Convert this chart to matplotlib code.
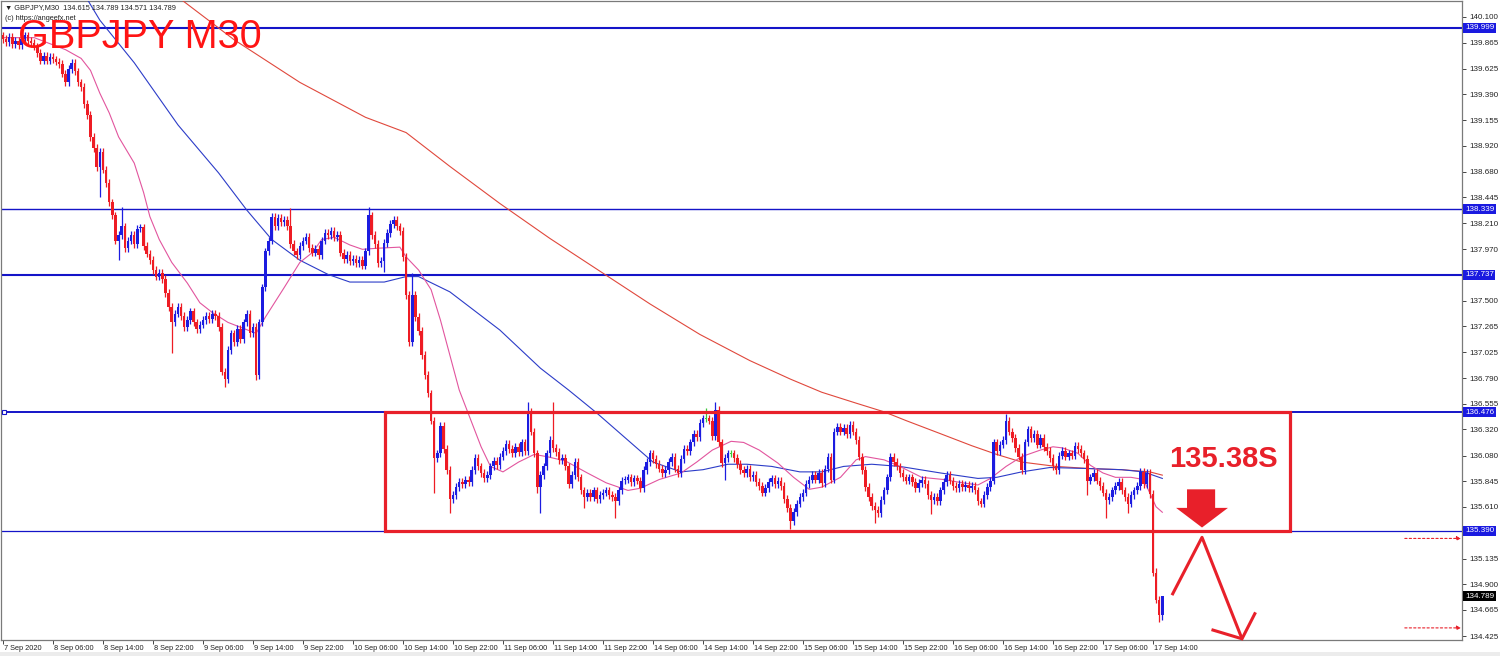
import matplotlib
matplotlib.use("Agg")
import matplotlib.pyplot as plt
import matplotlib.transforms as mtransforms
from matplotlib.patches import Rectangle, Polygon

# ---------------- data (30-minute bars, GBPJPY) ----------------
first_open = 139.93
closes = [
    139.90, 139.87, 139.92, 139.85, 139.88, 139.84, 139.90, 139.93, 139.88, 139.86, 139.83, 139.77, 139.70, 139.74, 139.70, 139.73,
    139.71, 139.69, 139.67, 139.58, 139.50, 139.62, 139.68, 139.60, 139.50, 139.46, 139.30, 139.20, 139.00, 138.90, 138.72, 138.86,
    138.70, 138.58, 138.40, 138.28, 138.05, 138.10, 138.18, 137.98, 138.05, 138.10, 138.02, 138.16, 138.17, 138.00, 137.93, 137.87,
    137.78, 137.72, 137.75, 137.70, 137.57, 137.44, 137.30, 137.38, 137.44, 137.36, 137.26, 137.32, 137.40, 137.30, 137.24, 137.28,
    137.32, 137.36, 137.33, 137.38, 137.36, 137.26, 136.85, 136.78, 137.05, 137.20, 137.12, 137.24, 137.15, 137.30, 137.38, 137.20,
    137.26, 136.82, 137.30, 137.62, 137.95, 138.05, 138.27, 138.18, 138.26, 138.22, 138.24, 138.18, 138.02, 137.95, 137.92, 138.00,
    138.05, 138.08, 137.98, 137.94, 137.97, 137.92, 138.05, 138.12, 138.10, 138.14, 138.08, 138.10, 137.94, 137.88, 137.92, 137.86,
    137.88, 137.84, 137.87, 137.82, 137.95, 138.28, 138.10, 138.02, 137.84, 137.86, 138.03, 138.12, 138.20, 138.24, 138.18, 138.14,
    137.90, 137.55, 137.12, 137.55, 137.35, 137.22, 137.00, 136.82, 136.65, 136.40, 136.06, 136.10, 136.35, 136.14, 135.95, 135.68,
    135.72, 135.79, 135.84, 135.82, 135.86, 135.84, 135.95, 136.06, 135.98, 135.92, 135.87, 135.90, 135.98, 136.03, 135.99, 136.07,
    136.12, 136.19, 136.14, 136.10, 136.16, 136.11, 136.20, 136.12, 136.48, 136.30, 136.10, 135.79, 135.90, 135.98, 136.10, 136.22,
    136.15, 136.11, 136.04, 136.06, 135.98, 135.82, 135.90, 136.02, 135.88, 135.76, 135.70, 135.74, 135.70, 135.76, 135.68, 135.72,
    135.74, 135.76, 135.72, 135.70, 135.66, 135.76, 135.85, 135.86, 135.88, 135.84, 135.87, 135.85, 135.78, 135.95, 136.02, 136.10,
    136.05, 136.00, 135.96, 135.92, 135.95, 136.02, 136.07, 135.96, 135.92, 136.05, 136.14, 136.12, 136.20, 136.28, 136.25, 136.38,
    136.42, 136.42, 136.40, 136.26, 136.50, 136.20, 136.01, 136.06, 136.10, 136.10, 136.06, 136.00, 135.95, 135.92, 135.96, 135.88,
    135.90, 135.84, 135.80, 135.74, 135.78, 135.84, 135.87, 135.82, 135.85, 135.80, 135.68, 135.60, 135.48, 135.56, 135.64, 135.70,
    135.74, 135.82, 135.86, 135.90, 135.86, 135.92, 135.83, 135.96, 136.07, 135.86, 136.30, 136.34, 136.30, 136.33, 136.28, 136.36,
    136.30, 136.22, 136.07, 135.95, 135.79, 135.70, 135.62, 135.58, 135.55, 135.67, 135.76, 135.88, 136.07, 136.02, 135.98, 135.92,
    135.88, 135.85, 135.88, 135.84, 135.78, 135.83, 135.86, 135.82, 135.72, 135.67, 135.70, 135.66, 135.76, 135.84, 135.90, 135.85,
    135.80, 135.78, 135.82, 135.79, 135.81, 135.78, 135.80, 135.76, 135.66, 135.64, 135.72, 135.79, 135.85, 136.20, 136.12, 136.18,
    136.22, 136.40, 136.30, 136.24, 136.15, 136.07, 135.95, 136.20, 136.32, 136.24, 136.28, 136.18, 136.24, 136.16, 136.12, 136.06,
    135.98, 135.95, 136.08, 136.12, 136.07, 136.10, 136.08, 136.17, 136.14, 136.10, 136.05, 135.85, 135.88, 135.92, 135.85, 135.80,
    135.74, 135.67, 135.70, 135.76, 135.80, 135.84, 135.76, 135.70, 135.64, 135.72, 135.76, 135.80, 135.93, 135.82, 135.92, 135.73,
    135.00, 134.76, 134.615, 134.789,
]
# notable wick extremes: bar index -> (high, low); None = short wick
wick_extremes = {
    31: (None, 138.45), 37: (None, 137.87), 38: (138.36, None), 54: (None, 137.02),
    71: (None, 136.71), 81: (None, 136.77), 92: (138.35, None), 117: (138.36, None),
    122: (None, 137.76), 131: (137.75, None), 138: (None, 135.74), 143: (None, 135.55),
    168: (136.57, None), 171: (None, 135.74), 172: (None, 135.55), 176: (136.57, None),
    186: (None, 135.60), 196: (None, 135.51), 225: (136.52, None), 228: (136.57, None),
    231: (None, 135.86), 252: (None, 135.41), 272: (136.40, None), 279: (None, 135.46),
    297: (None, 135.54), 321: (136.46, None), 347: (None, 135.72), 353: (None, 135.51),
    360: (None, 135.55), 368: (None, 134.98), 369: (135.05, None), 370: (None, 134.55),
    371: (134.789, 134.571),
}
typical_wick = 0.035

# moving averages sampled at bar indices
pink_idx = [0, 10, 20, 25, 28, 31, 34, 37, 42, 45, 47, 50, 54, 59, 63, 67, 72, 81, 84, 90, 95, 99, 102, 106,
            111, 115, 120, 127, 129, 133, 137, 140, 146, 153, 156, 160, 165, 170, 174, 180, 187, 193, 200,
            204, 210, 217, 222, 227, 233, 237, 242, 248, 253, 258, 262, 268, 273, 276, 282, 287, 294, 301,
            307, 312, 316, 321, 326, 332, 336, 339, 344, 348, 352, 356, 361, 365, 369, 371]
pink_val = [139.91, 139.91, 139.80, 139.72, 139.61, 139.40, 139.22, 139.00, 138.76, 138.49, 138.27, 138.06,
            137.85, 137.66, 137.48, 137.39, 137.30, 137.20, 137.35, 137.62, 137.85, 137.94, 138.06, 138.08,
            138.01, 137.97, 137.98, 137.99, 137.90, 137.78, 137.60, 137.32, 136.68, 136.16, 135.98, 135.93,
            136.02, 136.09, 136.07, 136.03, 135.92, 135.83, 135.76, 135.78, 135.86, 135.92, 136.02, 136.13,
            136.21, 136.20, 136.13, 136.01, 135.88, 135.77, 135.79, 135.88, 136.04, 136.07, 136.04, 135.98,
            135.88, 135.86, 135.83, 135.81, 135.87, 135.98, 136.07, 136.13, 136.16, 136.15, 136.10, 135.99,
            135.92, 135.88, 135.88, 135.86, 135.61, 135.56]
blue_idx = [27, 31, 42, 56, 69, 78, 86, 95, 104, 111, 122, 129, 133, 143, 159, 172, 181, 190, 200, 208, 217,
            224, 232, 238, 246, 255, 262, 269, 278, 287, 300, 312, 318, 326, 335, 348, 358, 365, 371]
blue_val = [140.26, 140.07, 139.68, 139.11, 138.67, 138.33, 138.06, 137.87, 137.74, 137.67, 137.67, 137.72,
            137.72, 137.58, 137.23, 136.88, 136.68, 136.47, 136.22, 136.02, 135.93, 135.95, 136.00, 136.00,
            135.98, 135.93, 135.93, 135.98, 136.00, 135.98, 135.92, 135.87, 135.88, 135.93, 135.97, 135.96,
            135.95, 135.93, 135.87]
red_idx = [57, 74, 95, 116, 129, 143, 159, 175, 191, 207, 223, 239, 252, 262, 273, 282, 289, 300, 310, 318,
           326, 337, 348, 358, 367, 371]
red_val = [140.26, 139.89, 139.50, 139.18, 139.04, 138.73, 138.39, 138.07, 137.77, 137.47, 137.19, 136.95,
           136.78, 136.66, 136.56, 136.48, 136.40, 136.28, 136.17, 136.09, 136.02, 135.98, 135.96, 135.95,
           135.93, 135.90]

level_lines = [139.999, 138.339, 137.737, 136.476, 135.390]
level_widths = [1.5, 1.0, 1.5, 1.4, 0.9]
last_price = 134.789
price_ticks = [140.100, 139.865, 139.625, 139.390, 139.155, 138.920, 138.680, 138.445, 138.210, 137.970,
               137.500, 137.265, 137.025, 136.790, 136.555, 136.320, 136.080, 135.845, 135.610, 135.135,
               134.900, 134.665, 134.425]
time_labels = ['7 Sep 2020', '8 Sep 06:00', '8 Sep 14:00', '8 Sep 22:00', '9 Sep 06:00', '9 Sep 14:00',
               '9 Sep 22:00', '10 Sep 06:00', '10 Sep 14:00', '10 Sep 22:00', '11 Sep 06:00', '11 Sep 14:00',
               '11 Sep 22:00', '14 Sep 06:00', '14 Sep 14:00', '14 Sep 22:00', '15 Sep 06:00', '15 Sep 14:00',
               '15 Sep 22:00', '16 Sep 06:00', '16 Sep 14:00', '16 Sep 22:00', '17 Sep 06:00', '17 Sep 14:00']
bars_per_label = 16

# range box and sell idea
box_left, box_right = 122.2, 411.8
box_low, box_high = 135.39, 136.476
sell_text = '135.38S'

# ---------------- figure ----------------
W, H = 1500, 656
fig = plt.figure(figsize=(W / 100, H / 100), dpi=100)
fig.patch.set_facecolor('white')
L, R, T, B = 1, 1462, 1, 640
ax = fig.add_axes([L / W, 1 - B / H, (R - L) / W, (B - T) / H])
ax.set_xlim(-0.64, 466.9)
ax.set_ylim(134.389, 140.246)
ax.set_facecolor('white')
for s in ax.spines.values():
    s.set_color('#7a7a7a')
    s.set_linewidth(0.9)

UP = '#1c1ce0'
DN = '#ee1c24'
DOJI = '#3cc83c'
ANN = '#e8202a'
SMALL = ['Liberation Sans', 'DejaVu Sans']

# level lines
for lvl, lw in zip(level_lines, level_widths):
    ax.axhline(lvl, color='#1414c8', lw=lw, zorder=2)
ax.plot([0.3], [136.476], marker='s', ms=3, mfc='white', mec='#1414c8', mew=0.8, zorder=3, clip_on=False)

# moving averages
ax.plot(red_idx, red_val, color='#e0483c', lw=0.8, zorder=3)
ax.plot(blue_idx, blue_val, color='#2c3cc8', lw=0.8, zorder=3)
ax.plot(pink_idx, pink_val, color='#e2559e', lw=0.8, zorder=3)

# candles
opens = [first_open] + closes[:-1]
for i, (o, c) in enumerate(zip(opens, closes)):
    hi_x, lo_x = wick_extremes.get(i, (None, None))
    hi = hi_x if hi_x is not None else max(o, c) + typical_wick
    lo = lo_x if lo_x is not None else min(o, c) - typical_wick
    col = UP if c > o else (DN if c < o else DOJI)
    ax.vlines(i, lo, hi, color=col, lw=0.9, zorder=4)
    h = abs(c - o)
    ax.bar(i, max(h, 0.012), bottom=min(o, c) if h > 0.012 else c - 0.006, width=0.8,
           color=col, linewidth=0, zorder=5)

# range rectangle
ax.add_patch(Rectangle((box_left, box_low), box_right - box_left, box_high - box_low,
                       fill=False, ec=ANN, lw=2.3, zorder=6))

# big down arrow
ax.add_patch(Polygon([(378.9, 135.77), (387.9, 135.77), (387.9, 135.60), (392.0, 135.60),
                      (383.7, 135.42), (375.4, 135.60), (378.9, 135.60)],
                     closed=True, fc=ANN, ec='none', zorder=7))
# zigzag projection
ax.plot([374.1, 383.7, 396.5], [134.80, 135.33, 134.40], color=ANN, lw=2.2, zorder=7,
        solid_capstyle='butt', clip_on=False)
ax.plot([387.2, 396.5, 400.6], [134.48, 134.40, 134.63], color=ANN, lw=2.2, zorder=7,
        solid_joinstyle='miter', clip_on=False)
# dotted target arrows
for yv in (135.32, 134.50):
    ax.annotate('', xy=(466.6, yv), xytext=(448.6, yv),
                arrowprops=dict(arrowstyle='-|>', color=ANN, lw=0.8, ls=(0, (2, 2)),
                                mutation_scale=6, shrinkA=0, shrinkB=0), zorder=7)

ax.text(373.2, 135.975, sell_text, color=ANN, fontsize=21, fontweight='bold',
        family=SMALL, ha='left', va='baseline', zorder=8)

# y axis on the right
ax.yaxis.tick_right()
ax.set_yticks(price_ticks)
ax.set_yticklabels([f'{v:.3f}' for v in price_ticks], family=SMALL)
ax.tick_params(axis='y', direction='out', length=3, width=0.7, pad=2, labelsize=5.8,
               colors='#444444', labelcolor='#222222')
blend = mtransforms.blended_transform_factory(ax.transAxes, ax.transData)
off = mtransforms.ScaledTranslation(3 / 100, 0, fig.dpi_scale_trans)
for lvl in level_lines:
    ax.text(1.0, lvl, f'{lvl:.3f}', transform=blend + off, ha='left', va='center', fontsize=5.8,
            family=SMALL, color='white', clip_on=False, zorder=9,
            bbox=dict(boxstyle='square,pad=0.2', fc='#1a1ae0', ec='none'))
ax.text(1.0, last_price, f'{last_price:.3f}', transform=blend + off, ha='left', va='center',
        fontsize=5.8, family=SMALL, color='white', clip_on=False, zorder=9,
        bbox=dict(boxstyle='square,pad=0.2', fc='black', ec='none'))

# x axis
xt = [k * bars_per_label for k in range(len(time_labels))]
ax.set_xticks(xt)
ax.set_xticklabels(time_labels, family=SMALL)
ax.tick_params(axis='x', direction='out', length=3, width=0.7, pad=0.5, labelsize=5.3,
               colors='#444444', labelcolor='#222222')
xoff = mtransforms.ScaledTranslation(1.5 / 100, 0, fig.dpi_scale_trans)
for lbl in ax.get_xticklabels():
    lbl.set_ha('left')
    lbl.set_transform(lbl.get_transform() + xoff)

# header texts
fig.text(5 / W, 1 - 8 / H, '\u25bc GBPJPY,M30  134.615 134.789 134.571 134.789', fontsize=5.3,
         family=SMALL, color='#222222', va='center', ha='left')
fig.text(5 / W, 1 - 18 / H, '(c) https://angeefx.net', fontsize=5.3, family=SMALL, color='#222222',
         va='center', ha='left')
fig.text(18 / W, 1 - 48 / H, 'GBPJPY M30', fontsize=28.5, color='#ff1414',
         family=SMALL, ha='left', va='baseline')

# light strip at the bottom
fig.patches.append(Rectangle((0, 0), 1, 4 / H, transform=fig.transFigure, fc='#ececec', ec='none'))

fig.savefig('out.png', dpi=100)
